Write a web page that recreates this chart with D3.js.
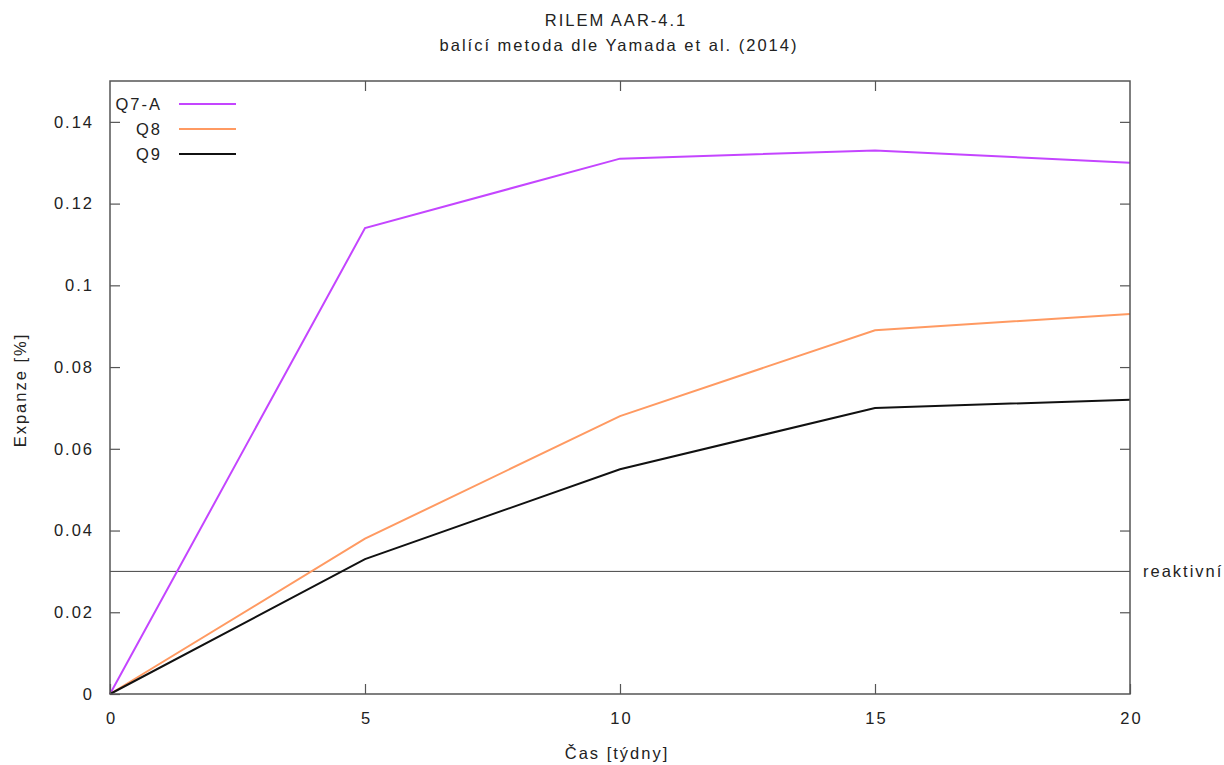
<!DOCTYPE html>
<html><head><meta charset="utf-8">
<script src="https://cdn.jsdelivr.net/npm/d3@7"></script>
<style>body{margin:0;background:#fff}svg{display:block}text{font-family:"Liberation Sans",Arial,sans-serif;fill:#222;letter-spacing:2px}</style>
</head><body><svg id="c" width="1224" height="765"></svg>
<script>
const weeks = [0, 5, 10, 15, 20];
const q7a = [0, 0.114, 0.131, 0.133, 0.130];
const q8 = [0, 0.038, 0.068, 0.089, 0.093];
const q9 = [0, 0.033, 0.055, 0.070, 0.072];
const seriesNames = ["Q7-A", "Q8", "Q9"];
const seriesColors = ["#c445ff", "#ff9a62", "#111111"];
const xTicks = [0, 5, 10, 15, 20];
const yTicks = [0, 0.02, 0.04, 0.06, 0.08, 0.1, 0.12, 0.14];
const threshold = 0.03;
const thresholdLabel = "reaktivní";
const title1 = "RILEM AAR-4.1";
const title2 = "balící metoda dle Yamada et al. (2014)";

const FS = 16.5;
const svg = d3.select("#c");
const L = 110, R = 1130, T = 81, B = 694;
const x = d3.scaleLinear().domain([0, 20]).range([L, R]);
const y = d3.scaleLinear().domain([0, 0.15]).range([B, T]);

// threshold line
svg.append("line").attr("x1", L).attr("x2", R).attr("y1", y(threshold)).attr("y2", y(threshold))
  .attr("stroke", "#444").attr("stroke-width", 1);
svg.append("text").attr("x", 1143).attr("y", y(threshold) + 6).attr("font-size", FS).text(thresholdLabel);

// series
const all = [q7a, q8, q9];
const line = d3.line().x((d, i) => x(weeks[i])).y(d => y(d));
all.forEach((s, k) => {
  svg.append("path").datum(s).attr("d", line).attr("fill", "none")
    .attr("stroke", seriesColors[k]).attr("stroke-width", 2);
});

// frame
svg.append("rect").attr("x", L).attr("y", T).attr("width", R - L).attr("height", B - T)
  .attr("fill", "none").attr("stroke", "#555").attr("stroke-width", 1.5);

// axes with inward ticks, mirrored
const fmtY = d => d === 0 ? "0" : d3.format("~g")(d);
const ax = svg.append("g").attr("transform", `translate(0,${B})`)
  .call(d3.axisBottom(x).tickValues(xTicks).tickSize(-10).tickPadding(18).tickFormat(d3.format("d")));
const axT = svg.append("g").attr("transform", `translate(0,${T})`)
  .call(d3.axisTop(x).tickValues(xTicks.slice(1, -1)).tickSize(-10).tickFormat(""));
const ay = svg.append("g").attr("transform", `translate(${L},0)`)
  .call(d3.axisLeft(y).tickValues(yTicks).tickSize(-10).tickPadding(16).tickFormat(fmtY));
const ayR = svg.append("g").attr("transform", `translate(${R},0)`)
  .call(d3.axisRight(y).tickValues(yTicks.slice(1)).tickSize(-10).tickFormat(""));
[ax, axT, ay, ayR].forEach(g => {
  g.select(".domain").remove();
  g.selectAll(".tick line").attr("stroke", "#555").attr("stroke-width", 1.2);
  g.selectAll("text").attr("font-size", FS).attr("fill", "#333")
    .style("font-family", '"Liberation Sans",Arial,sans-serif');
});
ax.selectAll("text").attr("dx", "1px");

// titles
svg.append("text").attr("x", 616).attr("y", 26).attr("text-anchor", "middle").attr("font-size", FS).text(title1);
svg.append("text").attr("x", 619).attr("y", 51).attr("text-anchor", "middle").attr("font-size", FS).text(title2);
svg.append("text").attr("x", 617).attr("y", 759).attr("text-anchor", "middle").attr("font-size", FS).text("Čas [týdny]");
svg.append("text").attr("transform", `translate(26,390) rotate(-90)`)
  .attr("text-anchor", "middle").attr("font-size", FS).text("Expanze [%]");

// legend
seriesNames.forEach((n, k) => {
  const yy = 104 + k * 25;
  svg.append("text").attr("x", 162).attr("y", yy + 6).attr("text-anchor", "end").attr("font-size", FS).text(n);
  svg.append("line").attr("x1", 179).attr("x2", 236).attr("y1", yy).attr("y2", yy)
    .attr("stroke", seriesColors[k]).attr("stroke-width", 2);
});
</script></body></html>
